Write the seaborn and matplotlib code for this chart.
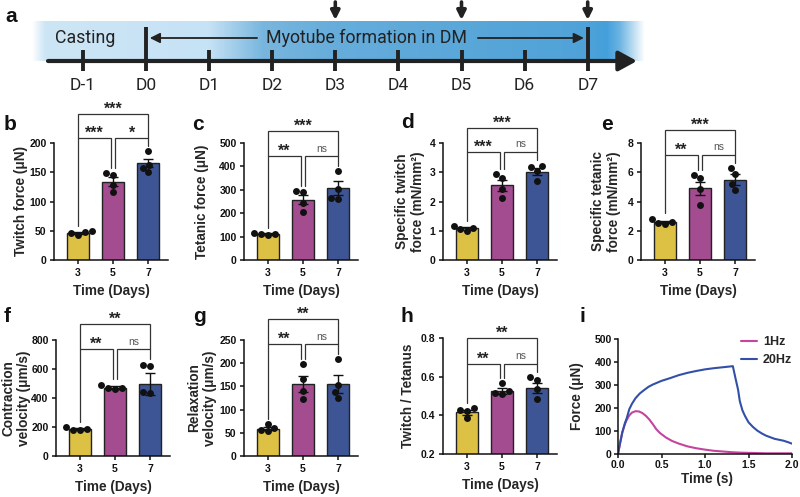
import numpy as np
import pandas as pd
import matplotlib
matplotlib.use("Agg")
import matplotlib.pyplot as plt
import seaborn as sns

W, H = 800, 497

# ---------------- data ----------------
days = ["3", "5", "7"]
bar_colors = ["#F6D12C", "#B33D98", "#2F4EA2"]

twitch_pts = [[43, 47, 49, 48], [146, 149, 128, 116], [186, 162, 158, 150]]
twitch_mean = [46, 134, 166]
twitch_sem = [1.5, 8, 7.5]

tetanic_pts = [[108, 113, 116, 111], [292, 293, 243, 207], [381, 304, 261, 265]]
tetanic_mean = [111, 258, 308]
tetanic_sem = [2.5, 20, 30]

spec_twitch_pts = [[1.17, 1.10, 0.98, 1.05], [2.94, 2.79, 2.42, 2.11], [3.23, 3.17, 3.05, 2.71]]
spec_twitch_mean = [1.08, 2.55, 3.02]
spec_twitch_sem = [0.04, 0.18, 0.11]

spec_tetanic_pts = [[2.83, 2.60, 2.48, 2.53], [5.82, 5.59, 4.83, 3.79], [6.28, 5.89, 5.20, 4.78]]
spec_tetanic_mean = [2.6, 4.9, 5.5]
spec_tetanic_sem = [0.08, 0.45, 0.35]

contraction_pts = [[200, 185, 180, 178], [492, 470, 465, 468], [630, 620, 440, 435]]
contraction_mean = [186, 472, 495]
contraction_sem = [5, 8, 75]

relaxation_pts = [[69, 61, 55, 53], [198, 167, 141, 122], [209, 152, 138, 124]]
relaxation_mean = [59, 156, 155]
relaxation_sem = [3.5, 17, 19]

ratio_pts = [[0.436, 0.428, 0.424, 0.386], [0.566, 0.528, 0.512, 0.514], [0.597, 0.583, 0.536, 0.484]]
ratio_mean = [0.415, 0.525, 0.543]
ratio_sem = [0.012, 0.014, 0.026]

# time course traces (s, uN)
t_1hz = [0, 0.02, 0.05, 0.08, 0.1, 0.13, 0.16, 0.2, 0.24, 0.28, 0.32, 0.36, 0.4, 0.44,
         0.48, 0.55, 0.62, 0.7, 0.8, 0.9, 1.0, 1.1, 1.2, 1.3, 1.4, 1.5, 1.6, 1.7, 1.8, 1.9, 2.0]
f_1hz = [0, 40, 95, 130, 148, 168, 180, 186, 185, 178, 166, 150, 130, 108,
         92, 72, 57, 45, 33, 25, 19, 14, 11, 8, 6, 5, 4, 3, 3, 3, 3]
t_20hz = [0, 0.02, 0.05, 0.08, 0.1, 0.13, 0.16, 0.2, 0.25, 0.3, 0.35, 0.4, 0.45, 0.5, 0.6,
          0.7, 0.8, 0.9, 1.0, 1.1, 1.2, 1.25, 1.3, 1.32, 1.35, 1.38, 1.4, 1.43, 1.46, 1.5,
          1.55, 1.6, 1.65, 1.7, 1.75, 1.8, 1.85, 1.9, 1.95, 2.0]
f_20hz = [0, 40, 95, 135, 155, 195, 218, 242, 263, 278, 292, 302, 310, 318, 330,
          343, 353, 361, 368, 373, 377, 379, 381, 382, 330, 280, 230, 190, 165, 138,
          118, 102, 90, 80, 73, 66, 62, 58, 52, 45]

timeline_days = [-1, 0, 1, 2, 3, 4, 5, 6, 7]
measure_days = [3, 5, 7]

# ---------------- style ----------------
sns.set_style("ticks")
plt.rcParams["font.family"] = ["Liberation Sans", "DejaVu Sans"]
plt.rcParams["font.weight"] = "bold"
plt.rcParams["axes.labelweight"] = "bold"
plt.rcParams["axes.linewidth"] = 1.1
plt.rcParams["axes.edgecolor"] = "#111111"
plt.rcParams["xtick.major.width"] = 1.1
plt.rcParams["ytick.major.width"] = 1.1
plt.rcParams["xtick.major.size"] = 3
plt.rcParams["ytick.major.size"] = 3
plt.rcParams["xtick.color"] = "#111111"
plt.rcParams["ytick.color"] = "#111111"

TICK_FS = 7.5
LABEL_FS = 9.8

fig = plt.figure(figsize=(W / 100, H / 100), dpi=100)


def px_axes(left, top, right, bottom):
    return fig.add_axes([left / W, 1 - bottom / H, (right - left) / W, (bottom - top) / H])


def bracket(ax, x1, x2, h, y1, y2, label):
    ax.plot([x1, x1, x2, x2], [y1, h, h, y2], color="#333333", lw=0.9,
            clip_on=False, solid_joinstyle="miter")
    if label == "ns":
        ax.annotate(label, xy=((x1 + x2) / 2, h), xytext=(0, 5.5), textcoords="offset points",
                    ha="center", va="center", fontsize=7.5, fontweight="normal",
                    color="#555555", annotation_clip=False)
    else:
        ax.annotate(label, xy=((x1 + x2) / 2, h), xytext=(0, 3.5), textcoords="offset points",
                    ha="center", va="center", fontsize=11.5, fontweight="bold",
                    color="#222222", annotation_clip=False)


def bar_panel(bar3_x, top, bottom, pts, mean, sem, yticks, ylabel, ylab_x,
              inner_h, outer_h, sig, fmt=None):
    left = bar3_x - 0.68 * 35
    right = bar3_x + 2.58 * 35
    ax = px_axes(left, top, right, bottom)
    sns.barplot(x=days, y=mean, hue=days, palette=bar_colors, legend=False, width=0.63,
                edgecolor="#222222", linewidth=1.0, errorbar=None, ax=ax, zorder=2)
    xs = np.arange(len(days))
    ax.errorbar(xs, mean, yerr=sem, fmt="none", ecolor="#111111", elinewidth=1.0,
                capsize=3.8, capthick=1.0, zorder=3)
    df = pd.DataFrame({"day": np.repeat(days, [len(p) for p in pts]),
                       "val": np.concatenate(pts)})
    sns.swarmplot(data=df, x="day", y="val", order=days, color="#111111", size=5,
                  ax=ax, zorder=4)
    ax.set_xlim(-0.68, 2.58)
    ax.set_ylim(yticks[0], yticks[-1])
    ax.set_yticks(yticks)
    if fmt:
        ax.set_yticklabels([fmt.format(v) for v in yticks])
    ax.tick_params(axis="both", labelsize=TICK_FS, pad=2.5)
    sns.despine(ax=ax)

    gap = 0.045 * (yticks[-1] - yticks[0])
    tops = [max(max(p), m + s) + gap for p, m, s in zip(pts, mean, sem)]
    bracket(ax, 0, 0.93, inner_h, tops[0], tops[1], sig[0])
    bracket(ax, 1.07, 2, inner_h, tops[1], tops[2], sig[1])
    bracket(ax, 0, 2, outer_h, inner_h, inner_h, sig[2])

    ax.set_ylabel(ylabel, fontsize=LABEL_FS, va="center", ha="center", multialignment="center",
                  linespacing=1.1)
    ax.yaxis.set_label_coords(ylab_x / W, 1 - (top + bottom) / 2 / H, transform=fig.transFigure)
    ax.set_xlabel("Time (Days)", fontsize=LABEL_FS, va="center")
    ax.xaxis.set_label_coords((left + right) / 2 / W, 1 - (bottom + 31) / H,
                              transform=fig.transFigure)
    return ax


# ---------------- panel a: timeline ----------------
ax_a = fig.add_axes([0, 1 - 100 / H, 1, 100 / H])
x0, x1 = (0 - 146) / 63.1, (800 - 146) / 63.1

stop_days = [-1.8, -1.6, 1.0, 1.85, 3.0, 5.0, 7.0, 7.3, 7.5, 7.9]
stop_colors = ["#ffffff", "#cde6f6", "#c6e2f5", "#78b6de", "#66addb",
               "#5aa7d9", "#4fa2d8", "#44a0db", "#6ab3e2", "#ffffff"]
grid = np.linspace(stop_days[0], stop_days[-1], 800)
rgb = np.array([matplotlib.colors.to_rgb(c) for c in stop_colors])
band = np.stack([np.interp(grid, stop_days, rgb[:, k]) for k in range(3)], axis=-1)
ax_a.imshow(band[None, :, :], extent=(stop_days[0], stop_days[-1], 61, 21),
            aspect="auto", interpolation="bilinear", zorder=0)
ax_a.set_xlim(x0, x1)
ax_a.set_ylim(100, 0)
ax_a.axis("off")

ax_a.annotate("", xy=((637 - 146) / 63.1, 61), xytext=((48 - 146) / 63.1, 61),
              arrowprops=dict(arrowstyle="-|>,head_length=0.55,head_width=0.3", lw=3,
                              color="#222222", mutation_scale=20, shrinkA=0, shrinkB=0))
for d in timeline_days:
    y_top = 27 if d in (0, 7) else 50
    ax_a.plot([d, d], [y_top, 71], color="#222222", lw=2.8, solid_capstyle="butt")
    ax_a.text(d, 85, f"D{d}", fontfamily="Roboto", fontweight="normal", fontsize=12.5,
              ha="center", va="center", color="#222222")
for d in measure_days:
    ax_a.annotate("", xy=(d, 20), xytext=(d, 2),
                  arrowprops=dict(arrowstyle="-|>,head_length=0.4,head_width=0.2", lw=2.6,
                                  color="#222222", mutation_scale=13, shrinkA=0, shrinkB=0))
ax_a.annotate("", xy=(0.06, 38), xytext=(1.76, 38),
              arrowprops=dict(arrowstyle="-|>,head_length=0.5,head_width=0.25", lw=1.3,
                              color="#222222", mutation_scale=12, shrinkA=0, shrinkB=0))
ax_a.annotate("", xy=(6.94, 38), xytext=(5.26, 38),
              arrowprops=dict(arrowstyle="-|>,head_length=0.5,head_width=0.25", lw=1.3,
                              color="#222222", mutation_scale=12, shrinkA=0, shrinkB=0))
ax_a.text(3.5, 38, "Myotube formation in DM", fontfamily="Roboto", fontweight="normal",
          fontsize=12.8, ha="center", va="center", color="#222222")
ax_a.text(-0.97, 38, "Casting", fontfamily="Roboto", fontweight="normal",
          fontsize=12.8, ha="center", va="center", color="#222222")

# ---------------- bar panels ----------------
bar_panel(78, 143, 260, twitch_pts, twitch_mean, twitch_sem, [0, 50, 100, 150, 200],
          "Twitch force (\u03bcN)", 21, 209, 250, ["***", "*", "***"])
bar_panel(268, 143, 260, tetanic_pts, tetanic_mean, tetanic_sem,
          [0, 100, 200, 300, 400, 500], "Tetanic force (\u03bcN)", 202, 443, 552,
          ["**", "ns", "***"])
bar_panel(467, 143, 260, spec_twitch_pts, spec_twitch_mean, spec_twitch_sem,
          [0, 1, 2, 3, 4], "Specific twitch\nforce (mN/mm\u00b2)", 410, 3.69, 4.52,
          ["***", "ns", "***"])
bar_panel(665, 143, 260, spec_tetanic_pts, spec_tetanic_mean, spec_tetanic_sem,
          [0, 2, 4, 6, 8], "Specific tetanic\nforce (mN/mm\u00b2)", 606, 7.17, 8.9,
          ["**", "ns", "***"])
bar_panel(80, 340, 456, contraction_pts, contraction_mean, contraction_sem,
          [0, 200, 400, 600, 800], "Contraction\nvelocity (\u03bcm/s)", 16, 736, 910,
          ["**", "ns", "**"])
bar_panel(268, 340, 456, relaxation_pts, relaxation_mean, relaxation_sem,
          [0, 50, 100, 150, 200, 250], "Relaxation\nvelocity (\u03bcm/s)", 202, 241, 296,
          ["**", "ns", "**"])
bar_panel(467, 338, 454, ratio_pts, ratio_mean, ratio_sem,
          [0.2, 0.4, 0.6, 0.8], "Twitch / Tetanus", 408, 0.666, 0.8,
          ["**", "ns", "**"], fmt="{:.1f}")

# ---------------- panel i: traces ----------------
ax_i = px_axes(618, 339, 792, 454)
sns.lineplot(x=t_1hz, y=f_1hz, color="#C4449E", lw=1.5, label="1Hz", ax=ax_i)
sns.lineplot(x=t_20hz, y=f_20hz, color="#3350A8", lw=1.5, label="20Hz", ax=ax_i)
ax_i.set_xlim(0, 2)
ax_i.set_ylim(0, 500)
ax_i.set_xticks([0, 0.5, 1.0, 1.5, 2.0])
ax_i.set_xticklabels(["0.0", "0.5", "1.0", "1.5", "2.0"])
ax_i.set_yticks([0, 100, 200, 300, 400, 500])
ax_i.tick_params(axis="both", labelsize=TICK_FS, pad=1.5)
sns.despine(ax=ax_i)
ax_i.set_ylabel("Force (\u03bcN)", fontsize=LABEL_FS, va="center", ha="center")
ax_i.yaxis.set_label_coords(577 / W, 1 - 396 / H, transform=fig.transFigure)
ax_i.set_xlabel("Time (s)", fontsize=LABEL_FS, va="center")
ax_i.xaxis.set_label_coords(707 / W, 1 - 479 / H, transform=fig.transFigure)
ax_i.legend(loc="upper left", bbox_to_anchor=(741 / W, 1 - 336 / H),
            bbox_transform=fig.transFigure, frameon=False, fontsize=9,
            handlelength=1.3, handletextpad=0.45, labelspacing=0.5,
            borderpad=0, borderaxespad=0)

# ---------------- panel letters ----------------
letters = {"a": (11, 16), "b": (10, 125), "c": (198, 125), "d": (407, 123),
           "e": (607, 124), "f": (7, 317), "g": (200, 317), "h": (407, 317), "i": (582, 317)}
for key, (lx, ly) in letters.items():
    fig.text(lx / W, 1 - ly / H, key, fontsize=15, fontweight="bold", ha="center",
             va="center", color="#111111")

fig.savefig("out.png", dpi=100)
